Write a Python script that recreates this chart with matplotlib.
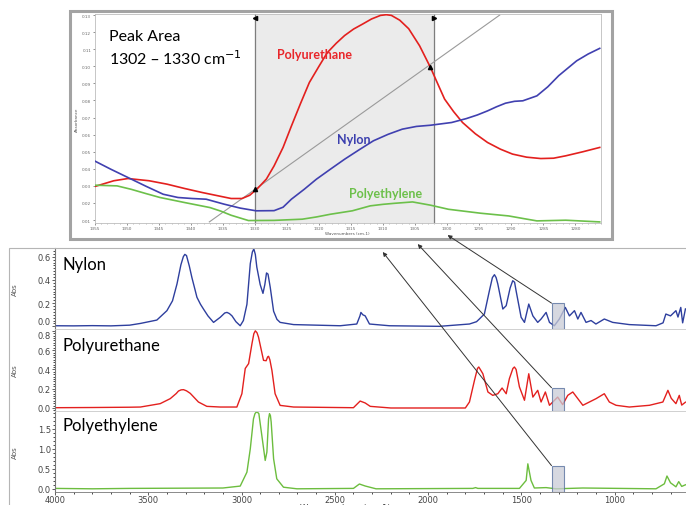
import matplotlib.pyplot as plt
from matplotlib.patches import Rectangle, ConnectionPatch
from matplotlib.ticker import MultipleLocator, FormatStrFormatter

# ---- zoomed view, 1355 - 1276 cm-1 ----
pu_zoom_wn = [1355, 1352, 1349.8, 1346.5, 1343.7, 1341, 1338.2, 1335.5, 1333.7, 1332, 1330.8, 1329.6, 1328.2,
              1327, 1325.6, 1324.3, 1322.9, 1321.5, 1320, 1318.7, 1317.3, 1316, 1314.6, 1313.2, 1311.8, 1310.4,
              1309.5, 1308.7, 1307.4, 1306, 1304.3, 1302.6, 1301.5, 1300.4, 1299, 1297.6, 1295.6, 1293.7,
              1291.7, 1289.8, 1287.6, 1285.4, 1283.4, 1281.5, 1278.8, 1276.2]
pu_zoom_abs = [0.0296, 0.0330, 0.0343, 0.0330, 0.0310, 0.0285, 0.0261, 0.0240, 0.0226, 0.0226, 0.0245, 0.0284,
               0.0340, 0.0417, 0.0525, 0.065, 0.0780, 0.0905, 0.1000, 0.108, 0.1135, 0.118, 0.1218, 0.1247,
               0.1277, 0.1298, 0.1302, 0.1298, 0.1270, 0.122, 0.1120, 0.0993, 0.0900, 0.0808, 0.0735, 0.0671,
               0.0605, 0.0554, 0.0515, 0.0486, 0.0468, 0.046, 0.0462, 0.0476, 0.0500, 0.0525]
ny_zoom_wn = [1355, 1352.5, 1349.8, 1347, 1344.3, 1342, 1339.8, 1337.6, 1334.8, 1332.3, 1329.8, 1327, 1325.6,
              1324.3, 1322.3, 1320.4, 1318.2, 1316, 1313.7, 1311.5, 1309.2, 1307, 1304.8, 1302.6, 1299.3, 1297,
              1295.3, 1293.7, 1292.3, 1290.9, 1289.5, 1288.2, 1286, 1284.3, 1282.6, 1279.8, 1278, 1276.2]
ny_zoom_abs = [0.0446, 0.0398, 0.0349, 0.0298, 0.0251, 0.0232, 0.0226, 0.0222, 0.0193, 0.0170, 0.0154, 0.0155,
               0.0175, 0.0222, 0.0280, 0.0339, 0.0398, 0.0456, 0.0512, 0.0564, 0.0602, 0.0632, 0.0648, 0.0655,
               0.0671, 0.0694, 0.0715, 0.0739, 0.0763, 0.0784, 0.0795, 0.0798, 0.0827, 0.0880, 0.0945, 0.1032,
               0.1072, 0.1105]
pe_zoom_wn = [1355, 1351.5, 1349.3, 1347, 1344.8, 1340.9, 1337, 1335.3, 1333.7, 1331, 1327, 1322.6, 1320.4,
              1318.2, 1314.8, 1312, 1310, 1308.2, 1305.4, 1302.6, 1299.8, 1294.8, 1290.4, 1288, 1286, 1281.5,
              1276.2]
pe_zoom_abs = [0.0304, 0.030, 0.028, 0.0255, 0.0232, 0.0202, 0.0173, 0.0152, 0.0128, 0.0097, 0.0098, 0.0105,
               0.0118, 0.0134, 0.0154, 0.0183, 0.0192, 0.0198, 0.0206, 0.0187, 0.0163, 0.014, 0.0124, 0.0108,
               0.0095, 0.0099, 0.0089]
peak_lo, peak_hi = 1302, 1330
base_wn = [1337.1, 1291.8]        # baseline drawn under the peak
base_abs = [0.0089, 0.13]
base_pts_wn = [1330, 1302.6]
base_pts_abs = [0.0284, 0.0993]

# ---- full spectra ----
ny_wn = [4000, 3900, 3800, 3700, 3600, 3542, 3454, 3400, 3370, 3346, 3325, 3312, 3304, 3295, 3280, 3266,
         3250, 3239, 3220, 3204, 3180, 3150, 3114, 3090, 3078, 3065, 3051, 3030, 3007, 2990, 2971, 2953,
         2942, 2934, 2926, 2918, 2900, 2885, 2875, 2866, 2858, 2846, 2828, 2810, 2793, 2721, 2471, 2382,
         2365, 2360, 2350, 2337, 2314, 2207, 1939, 1778, 1740, 1725, 1698, 1671, 1655, 1644, 1635, 1626,
         1599, 1581, 1560, 1546, 1536, 1528, 1501, 1483, 1460, 1438, 1412, 1394, 1367, 1349, 1323, 1296,
         1264, 1242, 1215, 1197, 1180, 1153, 1126, 1100, 1055, 1010, 921, 778, 740, 725, 700, 671, 660, 645,
         635, 620]
ny_abs = [0.005, 0.004, 0.006, 0.004, 0.01, 0.025, 0.054, 0.135, 0.22, 0.365, 0.53, 0.60, 0.62, 0.61, 0.52,
          0.42, 0.32, 0.25, 0.19, 0.149, 0.09, 0.034, 0.078, 0.115, 0.12, 0.11, 0.09, 0.04, 0.005, 0.05, 0.19,
          0.54, 0.64, 0.667, 0.62, 0.51, 0.36, 0.284, 0.36, 0.46, 0.45, 0.336, 0.13, 0.06, 0.034, 0.015, 0.005,
          0.02, 0.09, 0.12, 0.10, 0.09, 0.02, 0.005, 0.0, 0.02, 0.04, 0.063, 0.106, 0.307, 0.42, 0.445, 0.42,
          0.365, 0.149, 0.178, 0.33, 0.393, 0.38, 0.307, 0.078, 0.034, 0.192, 0.09, 0.034, 0.063, 0.12, 0.034,
          0.005, 0.063, 0.163, 0.09, 0.135, 0.063, 0.12, 0.034, 0.05, 0.02, 0.063, 0.034, 0.015, 0.005, 0.03,
          0.106, 0.09, 0.135, 0.08, 0.163, 0.03, 0.15]
pu_wn = [4000, 3800, 3600, 3542, 3436, 3382, 3350, 3338, 3324, 3311, 3295, 3275, 3231, 3186, 3114, 3025,
         2998, 2980, 2962, 2944, 2934, 2926, 2917, 2909, 2882, 2868, 2860, 2855, 2848, 2837, 2820, 2793, 2721,
         2400, 2364, 2337, 2310, 2200, 1800, 1778, 1751, 1735, 1728, 1720, 1706, 1679, 1653, 1626, 1603,
         1581, 1564, 1545, 1537, 1528, 1510, 1483, 1460, 1438, 1412, 1394, 1371, 1349, 1305, 1278, 1251,
         1224, 1197, 1170, 1135, 1099, 1055, 1028, 992, 921, 813, 741, 714, 696, 671, 653, 640, 620]
pu_abs = [0.003, 0.005, 0.008, 0.01, 0.045, 0.097, 0.15, 0.176, 0.188, 0.19, 0.178, 0.152, 0.062, 0.017, 0.01,
          0.01, 0.148, 0.41, 0.46, 0.667, 0.77, 0.80, 0.78, 0.735, 0.494, 0.49, 0.53, 0.536, 0.50, 0.39, 0.148,
          0.027, 0.01, 0.003, 0.072, 0.052, 0.017, 0.0, 0.0, 0.062, 0.287, 0.41, 0.425, 0.40, 0.355, 0.166,
          0.131, 0.148, 0.207, 0.148, 0.304, 0.41, 0.425, 0.40, 0.218, 0.08, 0.355, 0.113, 0.183, 0.062, 0.166,
          0.028, 0.113, 0.035, 0.131, 0.166, 0.097, 0.028, 0.062, 0.097, 0.148, 0.062, 0.028, 0.01, 0.028,
          0.062, 0.183, 0.10, 0.045, 0.131, 0.03, 0.06]
pe_wn = [4000, 3800, 3600, 3100, 3007, 2971, 2953, 2936, 2928, 2921, 2913, 2907, 2891, 2873, 2864, 2855,
         2850, 2845, 2841, 2828, 2811, 2775, 2703, 2400, 2368, 2337, 2279, 1760, 1745, 1733, 1510, 1474,
         1465, 1448, 1430, 1367, 1314, 1170, 778, 733, 719, 700, 671, 656, 640, 620]
pe_abs = [0.01, 0.0, 0.01, 0.02, 0.068, 0.417, 1.0, 1.75, 1.88, 1.92, 1.91, 1.88, 1.33, 0.71, 0.92, 1.75,
          1.88, 1.83, 1.67, 0.75, 0.25, 0.04, 0.0, 0.01, 0.12, 0.07, 0.0, 0.01, 0.03, 0.01, 0.01, 0.21, 0.625,
          0.21, 0.02, 0.03, 0.0, 0.02, 0.0, 0.125, 0.32, 0.15, 0.05, 0.18, 0.06, 0.1]

names = ['Nylon', 'Polyurethane', 'Polyethylene']
colors = ['#2e3f9e', '#e3201e', '#6cbd3e']
box_lo, box_hi = 1272, 1338
box_top = [0.2, 0.21, 0.58]

W, H = 686, 506


def fx(px):
    return px / W


def fy(py):
    return 1 - py / H


fig = plt.figure(figsize=(W / 100, H / 100), dpi=100)
label_font = ['Lato', 'DejaVu Sans']

# window frames
fig.add_artist(Rectangle((fx(70), fy(240)), fx(612) - fx(70), fy(12) - fy(240), transform=fig.transFigure,
                         fill=False, ec='#a3a3a3', lw=2.2))
fig.add_artist(Rectangle((fx(9), fy(510)), fx(700) - fx(9), fy(249) - fy(510), transform=fig.transFigure,
                         fill=False, ec='#b5b5b5', lw=0.8))

# ---- inset ----
ins = fig.add_axes([fx(94.6), fy(223.6), fx(601) - fx(94.6), fy(15.2) - fy(223.6)])
ins.set_xlim(1355, 1276)
ins.set_ylim(0.0085, 0.1305)
ins.axvspan(peak_lo, peak_hi, color='#ebebeb', zorder=0)
for x in (peak_lo, peak_hi):
    ins.axvline(x, color='#7d7d7d', lw=0.9, zorder=1)
ins.plot(base_wn, base_abs, color='#9a9a9a', lw=0.8, zorder=2)
ins.plot(pu_zoom_wn, pu_zoom_abs, color=colors[1], lw=1.2, zorder=3)
ins.plot(ny_zoom_wn, ny_zoom_abs, color='#4040b0', lw=1.2, zorder=3)
ins.plot(pe_zoom_wn, pe_zoom_abs, color='#6cc04a', lw=1.2, zorder=3)
ins.plot(base_pts_wn, base_pts_abs, '^', color='black', ms=3, zorder=4)
ins.plot([peak_hi], [0.1285], '<', color='black', ms=3, zorder=4)
ins.plot([peak_lo], [0.1285], '>', color='black', ms=3, zorder=4)
ins.xaxis.set_major_locator(MultipleLocator(5))
ins.xaxis.set_minor_locator(MultipleLocator(1))
ins.yaxis.set_major_locator(MultipleLocator(0.01))
ins.yaxis.set_major_formatter(FormatStrFormatter('%.2f'))
ins.tick_params(labelsize=3, colors='#666666', length=1.5, width=0.5, pad=1)
ins.tick_params(which='minor', length=1, width=0.4, colors='#888888')
for s in ins.spines.values():
    s.set_color('#bdbdbd')
    s.set_linewidth(0.6)
ins.set_xlabel('Wavenumbers (cm-1)', fontsize=3, color='#555555', labelpad=1)
ins.set_ylabel('Absorbance', fontsize=3, color='#555555', labelpad=2)
ins.text(0.028, 0.93, 'Peak Area\n1302 \u2013 1330 cm$^{-1}$', transform=ins.transAxes, fontsize=11.5,
         family=label_font, va='top', ha='left', linespacing=1.35)
ins.text(1320.7, 0.1071, 'Polyurethane', color='#e8262a', fontsize=9, fontweight='bold', family=label_font,
         ha='center', va='center')
ins.text(1314.6, 0.0573, 'Nylon', color='#3b3fae', fontsize=9, fontweight='bold', family=label_font,
         ha='center', va='center')
ins.text(1309.6, 0.0261, 'Polyethylene', color='#6cc04a', fontsize=9, fontweight='bold', family=label_font,
         ha='center', va='center')

# ---- stacked spectra ----
spectra = [(ny_wn, ny_abs), (pu_wn, pu_abs), (pe_wn, pe_abs)]
rows = [(249, 330), (330, 411.5), (411.5, 493)]
ylims = [(-0.023, 0.675), (-0.026, 0.819), (-0.08, 1.96)]
majors = [0.2, 0.2, 0.5]
minors = [0.025, 0.025, 0.1]
label_y = [265, 346, 426]
axes = []
for i, (wn, ab) in enumerate(spectra):
    top, bot = rows[i]
    ax = fig.add_axes([fx(55), fy(bot), 1 - fx(55), fy(top) - fy(bot)])
    ax.plot(wn, ab, color=colors[i], lw=1.0)
    ax.set_xlim(4000, 617)
    ax.set_ylim(*ylims[i])
    ax.add_patch(Rectangle((box_hi, ylims[i][0]), box_lo - box_hi, box_top[i] - ylims[i][0],
                           fc='#c9ccd6', ec='#4f6a9a', lw=0.8, alpha=0.75, zorder=3))
    ax.yaxis.set_major_locator(MultipleLocator(majors[i]))
    ax.yaxis.set_minor_locator(MultipleLocator(minors[i]))
    ax.yaxis.set_major_formatter(FormatStrFormatter('%.1f'))
    ax.xaxis.set_major_locator(MultipleLocator(500))
    ax.xaxis.set_minor_locator(MultipleLocator(100))
    ax.tick_params(labelsize=6, colors='#444444', length=2, width=0.6, pad=1)
    ax.tick_params(which='minor', length=1.2, width=0.5)
    ax.spines['right'].set_visible(False)
    ax.spines['left'].set_color('#777777')
    ax.spines['top'].set_color('#d0d0d0')
    ax.spines['top'].set_linewidth(0.6)
    ax.spines['bottom'].set_color('#d0d0d0' if i < 2 else '#777777')
    ax.spines['bottom'].set_linewidth(0.6)
    if i < 2:
        ax.tick_params(axis='x', which='both', bottom=False, labelbottom=False)
    else:
        ax.tick_params(axis='x', pad=0.5)
    ax.patch.set_alpha(0)
    fig.text(fx(15), fy((top + bot) / 2), 'Abs', rotation=90, fontsize=5, color='#555555',
             ha='center', va='center')
    fig.text(fx(63), fy(label_y[i]), names[i], fontsize=12, family=label_font, ha='left', va='center')
    axes.append(ax)

# nylon "0.0" and polyurethane "0.8" touch at the panel join: push them apart a little
fig.canvas.draw()
for t in axes[0].get_yticklabels():
    if t.get_text() in ('0.0', '\u22120.0'):
        t.set_verticalalignment('bottom')
for t in axes[1].get_yticklabels():
    if t.get_text() == '0.8':
        t.set_verticalalignment('top')

fig.text(fx(345), fy(509), 'Wavenumbers (cm-1)', fontsize=6, color='#444444', ha='center', va='center')

# arrows from the boxes up to the zoomed view
heads = [(0.697, -0.06), (0.638, -0.103), (0.569, -0.141)]
for i, ax in enumerate(axes):
    arrow = ConnectionPatch(xyA=(box_hi, box_top[i]), coordsA=ax.transData,
                            xyB=heads[i], coordsB=ins.transAxes,
                            arrowstyle='-|>', mutation_scale=6, color='#333333', lw=0.7)
    fig.add_artist(arrow)

fig.savefig('out.png', dpi=100)
